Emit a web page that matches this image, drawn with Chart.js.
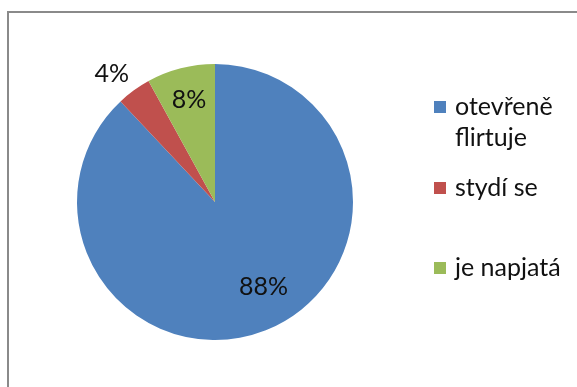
<!DOCTYPE html>
<html>
<head>
<meta charset="utf-8">
<script src="https://cdn.jsdelivr.net/npm/chart.js@4"></script>
<style>
    html, body { margin: 0; padding: 0; background: #fff; }
    #wrap { position: relative; width: 577px; height: 387px; overflow: hidden; }
    #frame { position: absolute; left: 7px; top: 11px; width: 620px; height: 420px; border: 2px solid #8a8a8a; }
    canvas { position: absolute; left: 0; top: 0; }
</style>
</head>
<body>
<div id="wrap">
    <div id="frame"></div>
    <canvas id="chart" width="577" height="387"></canvas>
</div>
<script>
let labels = ['otevřeně flirtuje', 'stydí se', 'je napjatá'];
let legendLines = [['otevřeně', 'flirtuje'], ['stydí se'], ['je napjatá']];
let values = [88, 4, 8];
let colors = ['#4F81BD', '#C0504D', '#9BBB59'];

const FONT = '25px Lato';

// percent labels on / next to the slices
const sliceLabels = {
    id: 'sliceLabels',
    afterDatasetsDraw(chart, args, opts) {
        const c = chart.ctx;
        const meta = chart.getDatasetMeta(0);
        const total = values.reduce((a, b) => a + b, 0);
        c.save();
        c.font = FONT;
        c.fillStyle = '#111';
        c.textAlign = 'center';
        c.textBaseline = 'middle';
        meta.data.forEach((arc, i) => {
            const p = opts.place[i];
            const a = (arc.startAngle + arc.endAngle) / 2 + p.da * Math.PI / 180;
            const r = arc.outerRadius * p.f;
            const txt = Math.round(values[i] / total * 100) + '%';
            c.fillText(txt, arc.x + Math.cos(a) * r, arc.y + Math.sin(a) * r);
        });
        c.restore();
    }
};

// legend on the right, drawn by hand because of the wrapped first entry
const sideLegend = {
    id: 'sideLegend',
    afterDraw(chart, args, opts) {
        const c = chart.ctx;
        c.save();
        c.font = FONT;
        c.textBaseline = 'middle';
        legendLines.forEach((lines, i) => {
            const y = opts.top[i];
            c.fillStyle = colors[i];
            c.fillRect(opts.x, y - opts.box / 2, opts.box, opts.box);
            c.fillStyle = '#111';
            lines.forEach((t, j) => {
                c.fillText(t, opts.x + opts.box + opts.gap, y + j * opts.lineH);
            });
        });
        c.restore();
    }
};

const ctx = document.getElementById('chart').getContext('2d');

const chart = new Chart(ctx, {
    type: 'pie',
    data: {
        labels: labels,
        datasets: [{
            data: values,
            backgroundColor: colors,
            borderWidth: 0
        }]
    },
    options: {
        responsive: false,
        animation: false,
        layout: {
            padding: { top: 64, bottom: 47, left: 77, right: 224 }
        },
        plugins: {
            legend: { display: false },
            tooltip: { enabled: false },
            sliceLabels: {
                place: [
                    { f: 0.71, da: -8 },
                    { f: 1.19, da: -3 },
                    { f: 0.76, da: 0 }
                ]
            },
            sideLegend: {
                x: 434, box: 12, gap: 9, lineH: 31,
                top: [107, 188, 268]
            }
        }
    },
    plugins: [sliceLabels, sideLegend]
});
</script>
</body>
</html>
